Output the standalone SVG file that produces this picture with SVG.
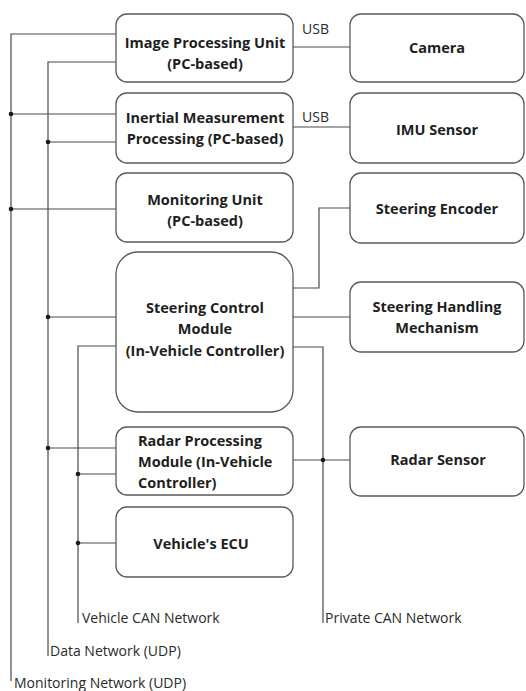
<svg xmlns="http://www.w3.org/2000/svg" width="526" height="691" viewBox="0 0 526 691">
  <style>
    .box { fill: #ffffff; stroke: #5a5a5a; stroke-width: 1.3; }
    .wire { fill: none; stroke: #4a4a4a; stroke-width: 1.2; }
    .dot { fill: #1a1a1a; }
    .t { font-family: "Open Sans", "Liberation Sans", sans-serif; font-weight: bold; font-size: 14.5px; fill: #1e1e1e; text-anchor: middle; }
    .tl { text-anchor: start; }
    .lbl { font-family: "Open Sans", "Liberation Sans", sans-serif; font-size: 14px; fill: #2a2a2a; }
  </style>
  <rect width="526" height="691" fill="#ffffff"/>

  <!-- connectors -->
  <g id="connectors">
    <!-- Monitoring Network (UDP) -->
    <path class="wire" d="M116 34 H11 V681"/>
    <path class="wire" d="M11 114 H116 M11 209 H116"/>
    <!-- Data Network (UDP) -->
    <path class="wire" d="M116 62 H48 V656"/>
    <path class="wire" d="M48 142 H116 M48 317 H116 M48 448 H116"/>
    <!-- Vehicle CAN Network -->
    <path class="wire" d="M116 346 H78 V623"/>
    <path class="wire" d="M78 474 H116 M78 543 H116"/>
    <!-- Private CAN Network -->
    <path class="wire" d="M293 347 H323 V623"/>
    <path class="wire" d="M293 460 H350"/>
    <!-- USB links -->
    <path class="wire" d="M293 47 H350 M293 127 H350"/>
    <!-- steering links -->
    <path class="wire" d="M293 288 H319 V208 H350"/>
    <path class="wire" d="M293 317 H350"/>

    <circle class="dot" cx="11" cy="114" r="2.3"/>
    <circle class="dot" cx="11" cy="209" r="2.3"/>
    <circle class="dot" cx="48" cy="142" r="2.3"/>
    <circle class="dot" cx="48" cy="317" r="2.3"/>
    <circle class="dot" cx="48" cy="448" r="2.3"/>
    <circle class="dot" cx="78" cy="474" r="2.3"/>
    <circle class="dot" cx="78" cy="543" r="2.3"/>
    <circle class="dot" cx="323" cy="460" r="2.3"/>

    <text class="lbl" x="302" y="34">USB</text>
    <text class="lbl" x="302" y="122">USB</text>
    <text class="lbl" x="82" y="623">Vehicle CAN Network</text>
    <text class="lbl" x="325" y="623">Private CAN Network</text>
    <text class="lbl" x="50" y="656">Data Network (UDP)</text>
    <text class="lbl" x="14" y="688">Monitoring Network (UDP)</text>
  </g>

  <g id="image-processing">
    <rect class="box" x="116" y="14" width="177" height="68" rx="11"/>
    <text class="t" x="205" y="48">Image Processing Unit</text>
    <text class="t" x="205" y="69">(PC-based)</text>
  </g>
  <g id="camera">
    <rect class="box" x="350" y="14" width="174" height="68" rx="11"/>
    <text class="t" x="437" y="53">Camera</text>
  </g>
  <g id="inertial-processing">
    <rect class="box" x="116" y="93" width="177" height="70" rx="11"/>
    <text class="t" x="205" y="123">Inertial Measurement</text>
    <text class="t" x="205" y="144">Processing (PC-based)</text>
  </g>
  <g id="imu-sensor">
    <rect class="box" x="350" y="93" width="174" height="70" rx="11"/>
    <text class="t" x="437" y="135">IMU Sensor</text>
  </g>
  <g id="monitoring-unit">
    <rect class="box" x="116" y="173" width="177" height="69" rx="11"/>
    <text class="t" x="205" y="205">Monitoring Unit</text>
    <text class="t" x="205" y="226">(PC-based)</text>
  </g>
  <g id="steering-encoder">
    <rect class="box" x="350" y="173" width="174" height="70" rx="11"/>
    <text class="t" x="437" y="214">Steering Encoder</text>
  </g>
  <g id="steering-control">
    <rect class="box" x="116" y="252" width="177" height="160" rx="22"/>
    <text class="t" x="205" y="313">Steering Control</text>
    <text class="t" x="205" y="334">Module</text>
    <text class="t" x="205" y="356">(In-Vehicle Controller)</text>
  </g>
  <g id="steering-handling">
    <rect class="box" x="350" y="282" width="174" height="70" rx="11"/>
    <text class="t" x="437" y="312">Steering Handling</text>
    <text class="t" x="437" y="333">Mechanism</text>
  </g>
  <g id="radar-processing">
    <rect class="box" x="116" y="427" width="177" height="68" rx="11"/>
    <text class="t tl" x="138" y="446">Radar Processing</text>
    <text class="t tl" x="138" y="467">Module (In-Vehicle</text>
    <text class="t tl" x="138" y="488">Controller)</text>
  </g>
  <g id="radar-sensor">
    <rect class="box" x="350" y="427" width="174" height="69" rx="11"/>
    <text class="t" x="438" y="465">Radar Sensor</text>
  </g>
  <g id="vehicle-ecu">
    <rect class="box" x="116" y="507" width="177" height="70" rx="11"/>
    <text class="t" x="201" y="549">Vehicle's ECU</text>
  </g>
</svg>
